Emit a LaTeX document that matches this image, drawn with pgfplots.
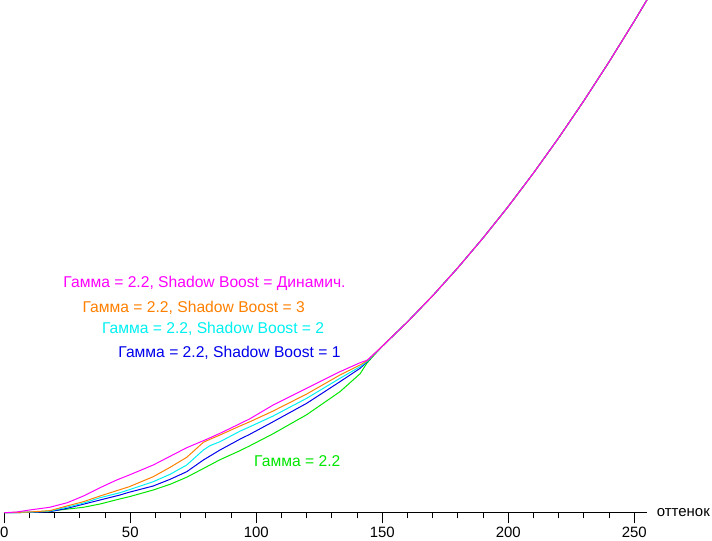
\documentclass[border=0pt]{standalone}
\usepackage{fontspec}
\setmainfont{Liberation Sans}
\usepackage{pgfplots}
\pgfplotsset{compat=1.18}

\definecolor{cgreen}{RGB}{0,230,0}
\definecolor{cblue}{RGB}{0,0,235}
\definecolor{ccyan}{RGB}{0,240,240}
\definecolor{corange}{RGB}{255,128,0}
\definecolor{cmag}{RGB}{255,0,255}

\newcommand{\tickfont}{\fontsize{15}{18}\selectfont}
\newcommand{\lblfont}{\fontsize{15.7}{18}\selectfont}

\begin{document}
\begin{tikzpicture}
\begin{axis}[
    scale only axis,
    width=642.6bp, height=512.7bp,
    xmin=0, xmax=255, ymin=0, ymax=512.7,
    axis x line*=bottom, axis y line=none,
    axis line style={black, line width=1bp},
    xtick={0,50,100,150,200,250},
    minor x tick num=4,
    tick align=outside,
    major tick length=10.7bp, minor tick length=5.7bp,
    every tick/.style={black, line width=1bp},
    xticklabel style={font=\tickfont},
    /pgf/number format/assume math mode=true,
    clip=false,
    every axis plot/.append style={line width=1bp, line join=round},
]
% Gamma = 2.2
\addplot[cgreen] coordinates {
  (0,0) (10,0.3) (19.5,2) (25,3.6) (31.4,5.4) (38,8.7) (45.9,13.8) (49.6,16)
  (59.1,22.7) (65.8,28.4) (72.4,35.5) (79,44.2) (85.6,53) (93.5,62)
  (97.5,67) (106.7,79) (120,98) (133.2,121) (141.2,139) (144,150)
  (150,166.5) (160,190.9) (170,217.0) (180,245.0) (190,274.8) (200,306.3)
  (210,339.7) (220,374.9) (230,412.0) (240,450.9) (250,491.6) (255,512.7)
};
% Shadow Boost = 1
\addplot[cblue] coordinates {
  (0,0) (10,0.3) (18,1) (24.8,4.3) (31.4,8.5) (38,12.7) (45.9,17.7) (49.6,20.5)
  (59.1,26.7) (65.8,33.4) (72.4,41) (79,52.7) (85.6,62.7) (93.5,73.5)
  (97.5,78.5) (106.7,91) (120,109.4) (133.2,131) (141.2,144.4) (144,151)
  (150,166.5) (160,190.9) (170,217.0) (180,245.0) (190,274.8) (200,306.3)
  (210,339.7) (220,374.9) (230,412.0) (240,450.9) (250,491.6) (255,512.7)
};
% Shadow Boost = 2
\addplot[ccyan] coordinates {
  (0,0) (10,0.5) (18,1.5) (24.8,5.5) (31.4,9.5) (38,15) (45.9,20) (49.6,23)
  (59.1,31) (65.8,38.4) (72.4,47.7) (79,62.7) (81.6,67) (85.6,71) (93.5,81.5)
  (97.5,86) (106.7,96.7) (120,114.4) (133.2,134.4) (141.2,146) (144,151.5)
  (150,166.5) (160,190.9) (170,217.0) (180,245.0) (190,274.8) (200,306.3)
  (210,339.7) (220,374.9) (230,412.0) (240,450.9) (250,491.6) (255,512.7)
};
% Shadow Boost = 3
\addplot[corange] coordinates {
  (0,0) (10,0.7) (18,2) (24.8,6.7) (31.4,11) (38,16.7) (44.6,22) (49.6,26)
  (59.1,36) (65.8,45.4) (72.4,55.4) (79,70.4) (81.6,73.4) (85.6,77.7)
  (93.5,86.7) (97.5,91) (106.7,101.7) (120,118.7) (133.2,137.7) (141.2,147.7)
  (144,152)
  (150,166.5) (160,190.9) (170,217.0) (180,245.0) (190,274.8) (200,306.3)
  (210,339.7) (220,374.9) (230,412.0) (240,450.9) (250,491.6) (255,512.7)
};
% Shadow Boost = dynamic
\addplot[cmag] coordinates {
  (0,0) (5,0.7) (10,2.7) (18,5.4) (25,10) (31.4,16.7) (38,25) (44.6,32.7)
  (49.6,37.7) (59.1,47.7) (72.4,65) (80.3,73.4) (85.6,79.4) (93.5,89)
  (97.5,94) (106.7,107.7) (120,124.4) (133.2,141) (141.2,150) (144,152.5)
  (150,166.5) (160,190.9) (170,217.0) (180,245.0) (190,274.8) (200,306.3)
  (210,339.7) (220,374.9) (230,412.0) (240,450.9) (250,491.6) (255,512.7)
};

\node[anchor=base west, inner sep=0, text=cmag, font=\lblfont] at (axis cs:23.4,225) {Гамма = 2.2, Shadow Boost = Динамич.};
\node[anchor=base west, inner sep=0, text=corange, font=\lblfont] at (axis cs:31.0,200) {Гамма = 2.2, Shadow Boost = 3};
\node[anchor=base west, inner sep=0, text=ccyan, font=\lblfont] at (axis cs:38.7,178.7) {Гамма = 2.2, Shadow Boost = 2};
\node[anchor=base west, inner sep=0, text=cblue, font=\lblfont] at (axis cs:45.2,155.4) {Гамма = 2.2, Shadow Boost = 1};
\node[anchor=base west, inner sep=0, text=cgreen, font=\lblfont] at (axis cs:99.1,46) {Гамма = 2.2};
\node[anchor=west, inner sep=0, font=\tickfont] at (axis cs:255,0) [xshift=9.8bp] {оттенок};
\end{axis}
\pgfresetboundingbox
\useasboundingbox (-4.3bp,-28.3bp) rectangle (707.7bp,512.7bp);
\end{tikzpicture}
\end{document}
